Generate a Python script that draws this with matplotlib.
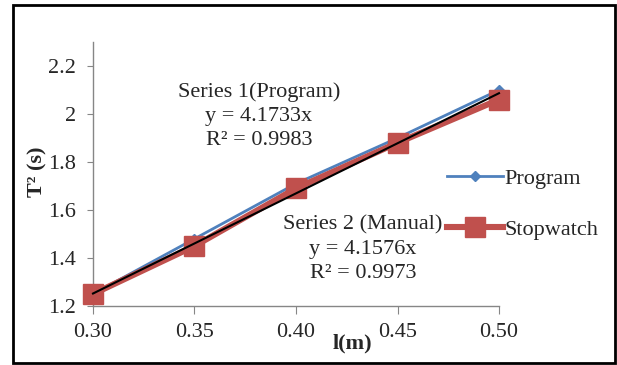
import matplotlib
matplotlib.use("Agg")
import matplotlib.pyplot as plt
from matplotlib.patches import Rectangle
import numpy as np

# data
lengths = [0.30, 0.35, 0.40, 0.45, 0.50]
program = [1.25, 1.48, 1.71, 1.90, 2.10]
stopwatch = [1.25, 1.45, 1.69, 1.88, 2.06]
slope_program = 4.1733
x_ticks = [0.30, 0.35, 0.40, 0.45, 0.50]
x_ticklabels = ["0.30", "0.35", "0.40", "0.45", "0.50"]
y_ticks = [1.2, 1.4, 1.6, 1.8, 2.0, 2.2]
y_ticklabels = ["1.2", "1.4", "1.6", "1.8", "2", "2.2"]
note_program = "Series 1(Program)\ny = 4.1733x\nR\u00b2 = 0.9983"
note_manual = "Series 2 (Manual)\ny = 4.1576x\nR\u00b2 = 0.9973"

plt.rcParams["font.family"] = ["Liberation Serif", "DejaVu Serif"]
FS = 16
BLUE = "#4F81BD"
RED = "#C0504D"
GREY = "#868686"
INK = "#262626"

fig = plt.figure(figsize=(6.17, 3.65), dpi=100)
ax = fig.add_axes([93 / 617, 59 / 365, 406 / 617, 264 / 365])

ax.plot(lengths, program, color=BLUE, lw=2.0, marker="D", ms=5,
        label="Program", zorder=3, clip_on=False)
ax.plot(lengths, stopwatch, color=RED, lw=4.4, marker="s", ms=15,
        label="Stopwatch", zorder=4, clip_on=False)

# linear trend through the origin (series 1)
xs = np.array([lengths[0], lengths[-1]])
ax.plot(xs, slope_program * xs, color="black", lw=1.5, zorder=5, clip_on=False)

ax.set_xlim(0.30, 0.50)
ax.set_ylim(1.2, 2.3)
ax.set_xticks(x_ticks)
ax.set_xticklabels(x_ticklabels)
ax.set_yticks(y_ticks)
ax.set_yticklabels(y_ticklabels)

for side in ("top", "right"):
    ax.spines[side].set_visible(False)
for side in ("left", "bottom"):
    ax.spines[side].set_color(GREY)
    ax.spines[side].set_linewidth(1.0)
ax.tick_params(axis="x", direction="out", length=6, color=GREY,
               labelsize=FS, pad=6, labelcolor=INK)
ax.tick_params(axis="y", direction="out", length=4.5, color=GREY,
               labelsize=FS, pad=8, labelcolor=INK)

ax.text(259 / 617, 1 - 116 / 365, note_program, transform=fig.transFigure,
        ha="center", va="center", fontsize=FS, linespacing=1.38, color=INK)
ax.text(363 / 617, 1 - 249 / 365, note_manual, transform=fig.transFigure,
        ha="center", va="center", fontsize=FS, linespacing=1.38, color=INK)

fig.text(37 / 617, 1 - 172 / 365, "T\u00b2 (s)", rotation=90, ha="center",
         va="center", fontsize=FS, fontweight="bold", color=INK)
fig.text(352 / 617, 1 - 343 / 365, "l(m)", ha="center", va="center",
         fontsize=FS, fontweight="bold", color=INK)

leg = fig.legend(loc="upper left", bbox_to_anchor=(447 / 617, 1 - 168 / 365),
                 frameon=False, fontsize=FS, handlelength=2.5, handletextpad=0.1,
                 labelspacing=1.4, borderpad=0, borderaxespad=0)
for t in leg.get_texts():
    t.set_color(INK)

fig.patches.append(Rectangle((13 / 617, 2 / 365), 602 / 617, 358 / 365,
                             transform=fig.transFigure, fill=False,
                             edgecolor="black", lw=2))

fig.savefig("out.png", dpi=100)
